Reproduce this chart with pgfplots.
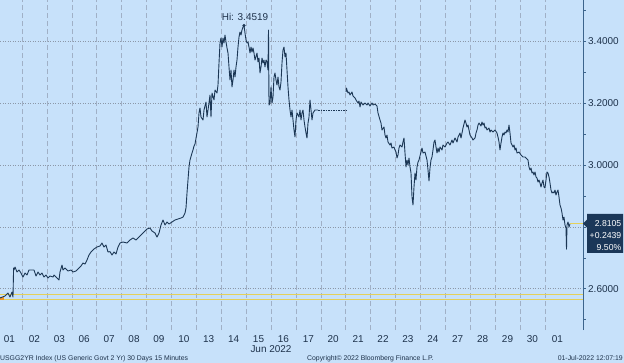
\documentclass[border=0pt]{standalone}
\usepackage{pgfplots}
\pgfplotsset{compat=1.18}
\usepackage{fontspec}
\setmainfont{Liberation Sans}
\definecolor{bg}{RGB}{199,225,250}
\definecolor{gridc}{RGB}{140,152,168}
\definecolor{vgridc}{RGB}{160,176,198}
\definecolor{linec}{RGB}{28,55,85}
\definecolor{txtc}{RGB}{30,50,75}
\definecolor{boxc}{RGB}{27,55,88}
\definecolor{yel}{RGB}{228,208,90}
\definecolor{axc}{RGB}{60,100,140}
\definecolor{orc}{RGB}{240,150,40}
\begin{document}
\begin{tikzpicture}
\path[use as bounding box, fill=bg] (0,0) rectangle (624bp,-363bp);
\begin{axis}[
  at={(0,0)}, anchor=north west,
  scale only axis, width=583bp, height=330bp,
  xmin=0, xmax=583, ymin=2.4664, ymax=3.5343,
  axis x line*=bottom, axis y line*=right,
  x axis line style={draw=none},
  y axis line style={draw=axc, line width=0.7pt},
  xtick={9.5,34.4,59.3,84.2,109.1,134,158.9,183.8,208.7,233.6,258.5,283.4,308.3,333.2,358.1,383,407.9,432.8,457.7,482.6,507.5,532.4,557.3},
  xticklabels={01,02,03,06,07,08,09,10,13,14,15,16,17,20,21,22,23,24,27,28,29,30,01},
  xtick style={draw=none},
  ytick={2.6,2.8,3.0,3.2,3.4},
  yticklabels={2.6000,,3.0000,3.2000,3.4000},
  minor ytick={2.5,2.7,2.9,3.1,3.3,3.5},
  ymajorgrids=true,
  every axis y grid/.style={draw=gridc, line width=0.5pt, dash pattern=on 1bp off 1.5bp},
  ytick style={draw=axc, line width=0.6pt},
  tick align=outside,
  major tick length=3bp, minor tick length=2.5bp,
  ticklabel style={font=\fontsize{10}{12}\selectfont, text=txtc},
  xticklabel style={anchor=north, inner sep=2bp},
  yticklabel style={anchor=west, inner sep=0pt, xshift=2bp},
  unbounded coords=jump,
  clip=false,
]
% day separators
\addplot[vgridc, line width=0.6pt, dash pattern=on 5bp off 3bp, forget plot] coordinates {
(22,2.4664)(22,3.5343)(22,nan)
(46.9,2.4664)(46.9,3.5343)(46.9,nan)
(71.8,2.4664)(71.8,3.5343)(71.8,nan)
(96.7,2.4664)(96.7,3.5343)(96.7,nan)
(121.6,2.4664)(121.6,3.5343)(121.6,nan)
(146.5,2.4664)(146.5,3.5343)(146.5,nan)
(171.4,2.4664)(171.4,3.5343)(171.4,nan)
(196.3,2.4664)(196.3,3.5343)(196.3,nan)
(221.2,2.4664)(221.2,3.5343)(221.2,nan)
(246.1,2.4664)(246.1,3.5343)(246.1,nan)
(271,2.4664)(271,3.5343)(271,nan)
(295.9,2.4664)(295.9,3.5343)(295.9,nan)
(320.8,2.4664)(320.8,3.5343)(320.8,nan)
(345.7,2.4664)(345.7,3.5343)(345.7,nan)
(370.6,2.4664)(370.6,3.5343)(370.6,nan)
(395.5,2.4664)(395.5,3.5343)(395.5,nan)
(420.4,2.4664)(420.4,3.5343)(420.4,nan)
(445.3,2.4664)(445.3,3.5343)(445.3,nan)
(470.2,2.4664)(470.2,3.5343)(470.2,nan)
(495.1,2.4664)(495.1,3.5343)(495.1,nan)
(520,2.4664)(520,3.5343)(520,nan)
(544.9,2.4664)(544.9,3.5343)
};
% previous close / open reference lines
\addplot[yel, line width=0.7pt] coordinates {(0,2.5666) (583,2.5666)};
\addplot[yel, line width=0.7pt] coordinates {(0,2.5810) (583,2.5810)};
\addplot[orc, line width=2.5pt] coordinates {(0,2.5690) (4,2.5690)};
% main series, part 1
\addplot[linec, line width=0.9pt, line join=round] coordinates {
(0,2.5699)(5,2.5764)(8,2.5861)(10,2.5731)(12,2.5893)(13,2.5731)(13.6,2.6670)(14,2.6605)(15,2.6702)(17,2.6541)(19,2.6605)(21,2.6508)(23,2.6379)(25,2.6508)(27,2.6443)(29,2.6605)
(34,2.6605)(36,2.6411)(38,2.6541)(40,2.6443)(42,2.6508)(44,2.6379)(46,2.6443)(48,2.6346)(50,2.6411)(53,2.6379)(54,2.6443)(57,2.6346)(59,2.6282)(60,2.6541)(62,2.6767)(63,2.6605)(65,2.6670)(68,2.6573)(71,2.6605)(73,2.6541)(76,2.6573)(79,2.6670)(81,2.6735)(83,2.6832)(85,2.6799)(87,2.6929)(89,2.7091)(91,2.7188)(94,2.7285)(97,2.7350)(100,2.7382)(102,2.7479)(104,2.7350)(106,2.7414)(108,2.7188)(110,2.7200)(112,2.7091)(114,2.7188)(116,2.7123)(118,2.7350)
(120,2.7479)(123,2.7511)(127,2.7479)(130,2.7576)(133,2.7641)(136,2.7576)(139,2.7673)(141,2.7738)(144,2.7835)(147,2.7932)(150,2.7964)(152,2.7867)(155,2.7803)(157,2.7673)(159,2.7803)(161,2.8062)(163,2.8223)(165,2.8062)(167,2.8159)(169,2.8094)(172,2.8159)(175,2.8223)(178,2.8256)(181,2.8288)(183,2.8320)(185,2.8450)(186,2.8612)(187,2.9097)(188,2.9518)(189,2.9939)(190,3.0165)(192,3.0392)(193,3.0489)(194,3.0618)(195,3.0683)
(198,3.1233)(199,3.1686)(200,3.1848)(201,3.1557)(203,3.1460)(204,3.1783)(206,3.2042)(207,3.1557)(209,3.2010)(210,3.2269)(211,3.1557)(212,3.2333)(214,3.2107)(215,3.2430)(217,3.2333)(218,3.2592)(219,3.3304)(220,3.3951)(221,3.4113)(222,3.3822)(223,3.4113)(224,3.3951)(225,3.4210)(226,3.3984)(227,3.3790)(228,3.3628)(229,3.3175)(230,3.2754)(231,3.3078)(232,3.2527)(233,3.2754)(234,3.3078)(235,3.2851)(236,3.3175)(237,3.3401)(238,3.3822)(239,3.4146)(240,3.4307)(241,3.4210)(242,3.4372)(243,3.4469)(244,3.4519)(245,3.4275)(246,3.4049)
(247,3.3951)(248,3.3984)(249,3.3822)(250,3.3628)(251,3.3822)(252,3.3660)(253,3.3790)(254,3.3628)(255,3.3401)(257,3.3628)(258,3.3337)(259,3.3466)(260,3.2981)(261,3.3175)(262,3.3466)(263,3.3304)(264,3.3401)(265,3.3175)(266,3.3401)(267,3.3337)(268,3.3078)(268.5,3.4372)(269,3.1945)(270,3.2010)(271,3.2527)(272,3.2010)(273,3.2204)(274,3.2851)(275,3.2981)(276,3.2754)(277,3.2592)(278,3.2851)(279,3.2527)(280,3.2430)(281,3.2689)(282,3.3304)(283,3.3725)(284,3.3822)(285,3.3498)(286,3.3628)(287,3.3078)(288,3.2527)(289,3.2107)(290,3.1783)(291,3.1557)(292,3.1783)(293,3.1460)(294,3.1136)(295,3.0909)(296,3.1460)(297,3.1686)(299,3.1557)(300,3.1783)(301,3.1460)(302,3.1686)(303,3.1783)(304,3.1460)(305,3.1233)(306,3.1039)(307,3.0877)(308,3.1362)(309,3.1557)(310,3.2107)(311,3.1783)(312,3.1460)(313,3.1686)(315,3.1783)(318,3.1783)
};
% holiday (Juneteenth) flat segment
\addplot[linec, line width=0.5pt, dash pattern=on 1.5bp off 1bp] coordinates {(318,3.1783) (346,3.1783)};
% main series, part 2
\addplot[linec, line width=0.9pt, line join=round] coordinates {
(346,3.2366)(346.5,3.2495)(347,3.2430)(348,3.2333)(349,3.2366)(350,3.2269)(352,3.2366)(353,3.2236)(355,3.2172)(356,3.2107)(358,3.2010)(359,3.2074)(360,3.1880)(361,3.2042)(363,3.1945)(365,3.2010)(367,3.1945)(368,3.2010)(370,3.1913)(372,3.2010)(373,3.1945)(375,3.1977)(377,3.1913)(378,3.1686)(380,3.1460)(381,3.1362)(382,3.1136)(384,3.1233)(385,3.0974)(386,3.0877)(387,3.0974)(388,3.0748)(390,3.0651)(391,3.0715)(392,3.0553)(394,3.0586)(395,3.0489)(396,3.0424)(397,3.0230)(398,3.0327)(399,3.0553)(400,3.0651)(402,3.0586)(403,3.0748)(404,3.0877)(405,3.0392)(406,2.9939)(407,3.0165)(408,3.0003)(409,3.0230)(410,2.9939)(411,2.9744)(412,2.8968)(413,2.8709)(414,2.9291)(415,2.9744)(416,2.9518)(417,2.9939)(418,3.0100)(419,3.0165)(420,3.0300)
(422,3.0553)(423,3.0392)(425,3.0424)(427,3.0165)(428,2.9841)(429,2.9485)(430,2.9906)(431,3.0165)(432,3.0262)(433,3.0489)(434,3.0748)(435,3.0812)(436,3.0586)(437,3.0392)(438,3.0553)(439,3.0424)(440,3.0586)(442,3.0489)(443,3.0651)(445,3.0586)(447,3.0715)(448,3.0748)(450,3.0651)(452,3.0812)(453,3.0715)(455,3.0877)(457,3.0748)(458,3.0909)(460,3.1039)(461,3.0877)(462,3.1039)(463,3.1201)(465,3.1460)(466,3.1362)(467,3.1233)(468,3.1298)(469,3.1136)(470,3.0974)(472,3.0877)(473,3.0812)(475,3.0877)(476,3.1039)(477,3.1136)(478,3.1298)(479,3.1362)(481,3.1265)(482,3.1395)(483,3.1298)(484,3.1362)(485,3.1201)(486,3.1233)(487,3.1136)(489,3.1201)(490,3.1071)(491,3.1136)(493,3.1071)(495,3.1136)(497,3.1039)(498,3.0909)(499,3.0748)(500,3.0489)(501,3.0715)(502,3.0909)(503,3.1039)(504,3.0974)(505,3.1071)(506,3.1039)(507,3.1136)(508,3.1071)(509,3.1298)(510,3.1039)(511,3.0715)(512,3.0651)(513,3.0586)(514,3.0651)(515,3.0489)(516,3.0553)(517,3.0392)(519,3.0424)(521,3.0327)(523,3.0262)(525,3.0262)(528,3.0165)(529,2.9939)(530,2.9841)(531,2.9906)(532,2.9744)(533,2.9777)(534,2.9680)(535,2.9777)(536,2.9615)(537,2.9583)(538,2.9453)(539,2.9518)(540,2.9421)(541,2.9291)(542,2.9421)(543,2.9518)(544,2.9291)(545,2.9259)
(547,2.9777)(548,2.9744)(549,2.9615)(550,2.9421)(551,2.9194)(552,2.9097)(553,2.9129)(554,2.9097)(555,2.9194)(556,2.9032)(557,2.9129)(558,2.9194)(559,2.8968)(560,2.8709)(561,2.8612)(562,2.8450)(563,2.8223)(564,2.8320)(565,2.8062)(566,2.7964)(566.5,2.7280)(567,2.8062)(568,2.8159)(569,2.7997)(570,2.8105)
};
% last value line
\addplot[yel, line width=0.8pt] coordinates {(570,2.8105) (583,2.8105)};
% high marker
\addplot[only marks, mark=*, mark size=1.3pt, color=linec] coordinates {(244,3.4519)};
\node[anchor=base, inner sep=0pt, yshift=4.5bp, text=txtc, font=\fontsize{10}{12}\selectfont] at (axis cs:245,3.4519) {Hi: 3.4519};
\coordinate (lastv) at (axis cs:583,2.8105);
\end{axis}
% last value tag
\fill[boxc] (lastv) -- ++(4bp,4bp) -- ++(0,5.7bp) -- ++(36bp,0) -- ++(0,-39bp) -- ++(-36bp,0) -- ++(0,25.3bp) -- cycle;
\begin{scope}[every node/.style={anchor=base east, inner sep=0pt, text=white, font=\fontsize{8.7}{9}\selectfont}]
\node[xshift=38.5bp, yshift=-2.8bp] at (lastv) {2.8105};
\node[xshift=38.5bp, yshift=-14.8bp] at (lastv) {+0.2439};
\node[xshift=38.5bp, yshift=-26.8bp] at (lastv) {9.50\%};
\end{scope}
\node[text=txtc, font=\fontsize{10}{12}\selectfont, inner sep=0pt] at (271bp,-349bp) {Jun 2022};
\begin{scope}[every node/.style={inner sep=0pt, text=txtc, font=\fontsize{6.9}{8}\selectfont}]
\node[anchor=west] at (0bp,-358.5bp) {USGG2YR Index (US Generic Govt 2 Yr) 30 Days 15 Minutes};
\node[anchor=west] at (307bp,-358.5bp) {Copyright© 2022 Bloomberg Finance L.P.};
\node[anchor=east] at (623bp,-358.5bp) {01-Jul-2022 12:07:19};
\end{scope}
\end{tikzpicture}
\end{document}
